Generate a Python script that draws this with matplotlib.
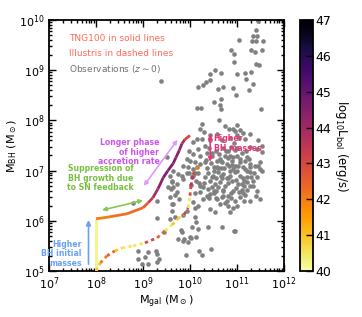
import numpy as np
import matplotlib
matplotlib.use("Agg")
import matplotlib.pyplot as plt
from matplotlib.collections import LineCollection
from matplotlib.colors import Normalize

# TNG100 track (log10 Mgal, log10 MBH, log10 Lbol)
tng_logm  = [8.00, 8.00, 8.30, 8.66, 9.00, 9.11, 9.21, 9.32, 9.43, 9.53, 9.64, 9.70, 9.77, 9.83, 9.89, 10.00]
tng_logbh = [5.00, 6.04, 6.08, 6.14, 6.26, 6.36, 6.46, 6.64, 6.86, 7.00, 7.14, 7.26, 7.40, 7.54, 7.62, 7.70]
tng_logL  = [40.2, 42.0, 42.2, 42.3, 42.6, 43.2, 43.8, 44.3, 44.5, 44.5, 44.5, 44.4, 44.2, 43.8, 43.0, 42.5]

# Illustris track
ill_logm  = [8.00, 8.09, 8.23, 8.40, 8.55, 8.79, 9.04, 9.30, 9.47, 9.62, 9.74, 9.87, 9.96, 10.00, 10.02, 10.06, 10.13, 10.21]
ill_logbh = [5.00, 5.16, 5.30, 5.40, 5.46, 5.50, 5.56, 5.66, 5.80, 5.92, 6.04, 6.12, 6.26, 6.50, 6.70, 6.92, 7.04, 7.08]
ill_logL  = [41.0, 42.0, 42.5, 41.0, 40.5, 40.5, 43.0, 42.5, 40.5, 41.0, 40.8, 43.0, 40.5, 43.0, 43.5, 43.0, 42.0, 41.5]

# observations at z~0
obs_logm = [9.38, 11.40, 11.45, 11.33, 11.43, 11.04, 11.31, 11.40, 11.56, 10.87, 10.93, 11.30, 11.39, 11.53,
            10.93, 11.40, 11.46, 10.53, 10.43, 10.65, 11.01, 11.18, 11.30, 10.43, 10.34, 10.28, 10.16, 10.70,
            10.60, 10.91, 11.20, 11.35, 11.25, 10.98, 10.65, 10.52, 10.64, 10.66, 10.15, 10.23, 11.50,
            10.25, 10.21, 10.30, 10.62, 10.75, 10.82, 11.01, 10.91, 11.06, 11.28, 11.05, 11.16, 10.99,
            10.07, 10.14, 10.25, 10.32, 9.98, 10.06, 10.16, 10.21, 9.93, 10.00, 10.11, 10.21, 10.32,
            9.86, 9.96, 10.06, 9.75, 9.82, 9.72, 9.57, 9.54, 9.86,
            10.57, 10.67, 10.78, 10.89, 10.96, 11.06, 11.17, 11.28, 11.38, 11.49, 11.26, 10.99, 10.85, 10.74, 10.64,
            10.50, 10.60, 10.71, 10.85, 10.96, 11.06, 11.17, 11.28, 11.42, 11.53,
            10.32, 10.43, 10.53, 10.64, 10.74, 10.89, 11.03, 11.21, 11.35,
            11.28, 11.42, 11.53, 10.28, 10.39,
            9.60, 9.68, 9.77, 9.62, 9.61, 9.57, 9.68, 9.84, 9.93, 10.11, 10.18, 10.28, 10.43, 10.57, 10.71,
            10.81, 10.96, 10.43, 10.53, 11.21, 11.10, 10.07, 10.21, 10.46, 10.64, 10.81,
            9.29, 9.30, 9.45, 9.80, 9.75, 9.87, 10.02, 10.13, 10.04, 10.18, 10.13, 10.39, 10.67, 10.94,
            10.45, 10.20, 10.25, 9.91, 9.28, 9.30, 9.33, 9.11, 8.90, 8.90, 8.97,
            8.78, 9.04, 9.11, 9.29, 9.61, 9.64, 9.72, 9.57, 9.64,
            11.28, 11.49, 11.21, 11.10, 11.28, 11.42, 10.92, 11.06, 11.28, 11.49, 10.99, 10.78, 10.85, 10.96,
            9.86, 9.82, 10.00, 10.91, 11.06, 11.21, 11.03, 9.52, 9.61, 9.64,
            10.43, 10.36, 11.45, 11.53, 10.07, 10.11, 9.93, 10.36, 10.66, 10.76, 10.93, 11.00, 10.47, 11.30, 9.95,
            10.55, 10.70, 10.80, 10.40, 10.48, 10.58, 10.68, 10.88, 11.12, 11.15, 10.20, 10.10, 10.50, 10.90,
            10.40, 10.47, 10.55, 10.62, 10.70, 10.80, 10.88, 10.95, 11.10, 11.20,
            10.35, 10.45, 10.52, 10.60, 10.72, 10.82, 10.92, 11.00, 11.12, 11.22,
            10.38, 10.46, 10.56, 10.66, 10.78, 10.86, 10.98, 11.12, 11.36, 11.45,
            10.30, 10.50, 10.60, 10.70, 10.80, 10.98, 11.05, 11.15, 11.34, 11.40,
            10.36, 10.55, 10.68, 10.88, 10.75, 10.92, 11.14, 11.18,
            10.12, 10.18, 10.22, 10.10, 10.02, 10.05, 9.98, 10.15,
            10.42, 10.58, 10.68, 10.85, 10.95, 11.12, 10.80, 10.65]
obs_logbh = [8.78, 9.80, 9.98, 9.68, 9.68, 9.60, 9.58, 9.58, 9.58, 9.40, 9.32, 9.40, 9.37, 9.41,
             9.17, 9.13, 9.11, 9.00, 8.93, 8.95, 8.93, 8.95, 8.97, 8.80, 8.77, 8.70, 8.67, 8.67,
             8.62, 8.65, 8.82, 8.72, 8.60, 8.51, 8.43, 8.37, 8.30, 8.22, 8.25, 8.25, 8.22,
             7.93, 7.82, 7.77, 8.01, 7.89, 7.82, 7.91, 7.83, 7.80, 7.73, 7.65, 7.63, 7.70,
             7.57, 7.63, 7.62, 7.50, 7.40, 7.33, 7.43, 7.30, 7.23, 7.20, 7.17, 7.13, 7.17,
             7.10, 7.07, 7.03, 6.93, 6.90, 6.73, 6.90, 6.67, 6.83,
             7.20, 7.17, 7.13, 7.20, 7.10, 7.17, 7.20, 7.13, 7.10, 7.17, 7.23, 7.30, 7.30, 7.30, 7.23,
             7.00, 6.97, 6.93, 7.00, 6.97, 6.90, 7.03, 6.97, 6.87, 7.00,
             6.87, 6.80, 6.73, 6.77, 6.70, 6.80, 6.73, 6.77, 6.70,
             7.47, 7.43, 7.37, 6.67, 6.63,
             6.63, 6.51, 6.43, 6.33, 6.20, 6.03, 6.07, 6.11, 6.20, 6.07, 6.30, 6.43, 6.53, 6.43, 6.60,
             6.50, 6.40, 6.23, 6.17, 6.62, 6.62, 6.37, 6.57, 6.67, 6.33, 6.30,
             6.40, 6.05, 5.77, 5.81, 5.63, 5.63, 5.65, 5.67, 5.87, 5.83, 5.97, 5.87, 5.87, 5.80,
             5.43, 5.40, 5.32, 5.32, 5.39, 5.33, 5.23, 5.37, 5.40, 5.23, 5.13,
             6.35, 5.27, 5.13, 5.17, 6.77, 6.67, 6.57, 6.47, 6.33,
             7.07, 7.03, 6.87, 6.73, 6.70, 6.60, 6.60, 6.47, 6.40, 6.43, 6.30, 6.40, 6.17, 5.80,
             5.60, 5.77, 5.67, 7.27, 7.23, 7.27, 7.10, 7.27, 6.80, 7.00,
             7.60, 7.36, 7.60, 7.50, 6.90, 6.95, 6.95, 7.05, 7.05, 7.40, 7.55, 7.45, 7.35, 6.88, 5.57,
             6.60, 6.50, 6.85, 6.45, 6.90, 7.07, 6.85, 6.55, 6.55, 6.80, 6.75, 6.25, 6.55, 7.12,
             7.45, 7.30, 7.40, 7.33, 7.45, 7.40, 7.48, 7.42, 7.35, 7.40,
             7.22, 7.15, 7.08, 7.05, 7.05, 7.10, 7.03, 7.00, 7.08, 7.00,
             6.95, 6.88, 6.85, 6.90, 6.85, 6.90, 6.82, 6.85, 6.95, 7.10,
             6.75, 6.60, 6.68, 6.62, 6.75, 6.65, 6.58, 6.70, 6.80, 6.50,
             6.50, 6.45, 6.48, 6.45, 6.35, 6.25, 6.40, 6.52,
             6.80, 6.95, 6.70, 6.55, 6.72, 6.88, 6.95, 7.07,
             7.70, 7.72, 7.60, 7.65, 7.78, 7.75, 7.25, 7.20]

cmap = plt.get_cmap('inferno_r')
norm = Normalize(vmin=40, vmax=47)

fig = plt.figure(figsize=(3.62, 3.17), dpi=100)
ax = fig.add_axes([0.1354, 0.1451, 0.6492, 0.7918])
cax = fig.add_axes([0.8287, 0.1451, 0.0359, 0.7918])

ax.scatter(10**np.array(obs_logm), 10**np.array(obs_logbh), s=11, c='#808080', lw=0, zorder=2)

def track(lm, lb, lL, ls):
    x = 10**np.array(lm)
    y = 10**np.array(lb)
    pts = np.column_stack([x, y]).reshape(-1, 1, 2)
    segs = np.concatenate([pts[:-1], pts[1:]], axis=1)
    lc = LineCollection(segs, cmap=cmap, norm=norm, linewidths=2.0, linestyles=ls,
                        capstyle='butt', joinstyle='round', zorder=3)
    lc.set_array(np.array(lL[:-1]))
    ax.add_collection(lc)

track(tng_logm, tng_logbh, tng_logL, 'solid')
track(ill_logm, ill_logbh, ill_logL, (0, (1.2, 1.2)))

ax.set_xscale('log')
ax.set_yscale('log')
ax.set_xlim(1e7, 1e12)
ax.set_ylim(1e5, 1e10)
ax.set_xlabel(r'M$_{\rm gal}$ (M$_\odot$)', fontsize=8, labelpad=1)
ax.set_ylabel(r'M$_{\rm BH}$ (M$_\odot$)', fontsize=8, labelpad=0)
ax.tick_params(which='both', direction='in', top=True, right=True, labelsize=8, width=1.0)
ax.tick_params(which='major', length=5)
ax.tick_params(which='minor', length=2.5)
for s in ax.spines.values():
    s.set_linewidth(1.3)

fs = 5.6
ax.text(0.085, 0.925, 'TNG100 in solid lines', transform=ax.transAxes, color='#ff6a55', fontsize=6.5, va='center')
ax.text(0.085, 0.865, 'Illustris in dashed lines', transform=ax.transAxes, color='#ff6a55', fontsize=6.5, va='center')
ax.text(0.085, 0.805, r'Observations ($z\sim0$)', transform=ax.transAxes, color='#707070', fontsize=6.5, va='center')

# longer phase
ax.text(10**9.35, 10**7.37, 'Longer phase\nof higher\naccretion rate', color='#cc55ee', fontsize=fs,
        ha='right', va='center', fontweight='bold', linespacing=1.1)
ax.annotate('', xy=(10**9.77, 10**7.66), xytext=(10**8.98, 10**6.65),
            arrowprops=dict(arrowstyle='<|-|>', color='#dd99ff', lw=1.2, mutation_scale=6))

# SN feedback
ax.text(10**8.1, 10**6.85, 'Suppression of\nBH growth due\nto SN feedback', color='#77c040', fontsize=fs,
        ha='center', va='center', fontweight='bold', linespacing=1.1)
ax.annotate('', xy=(10**9.06, 10**6.42), xytext=(10**8.07, 10**6.20),
            arrowprops=dict(arrowstyle='<|-|>', color='#88c855', lw=1.2, mutation_scale=6))

# initial masses
ax.text(10**7.7, 10**5.34, 'Higher\nBH initial\nmasses', color='#6aa0f0', fontsize=fs,
        ha='right', va='center', fontweight='bold', linespacing=1.1)
ax.annotate('', xy=(10**7.84, 10**6.07), xytext=(10**7.84, 10**5.08),
            arrowprops=dict(arrowstyle='-|>', color='#6aa0f0', lw=1.2, mutation_scale=7))

# higher BH masses
ax.text(10**10.5, 10**7.54, 'Higher\nBH masses', color='#ee3377', fontsize=fs,
        ha='left', va='center', fontweight='bold', linespacing=1.1)
ax.annotate('', xy=(10**10.43, 10**7.78), xytext=(10**10.43, 10**7.12),
            arrowprops=dict(arrowstyle='<|-|>', color='#ee3377', lw=1.2, mutation_scale=6))

sm = plt.cm.ScalarMappable(cmap=cmap, norm=norm)
cb = fig.colorbar(sm, cax=cax)
cb.set_ticks([40, 41, 42, 43, 44, 45, 46, 47])
cb.ax.tick_params(direction='in', length=5, width=1.0, labelsize=9, pad=2)
cb.outline.set_linewidth(1.3)
cb.set_label(r'log$_{10}$L$_{\rm bol}$ (erg/s)', rotation=270, fontsize=8.5, labelpad=13)

fig.savefig('out.png', dpi=100)
